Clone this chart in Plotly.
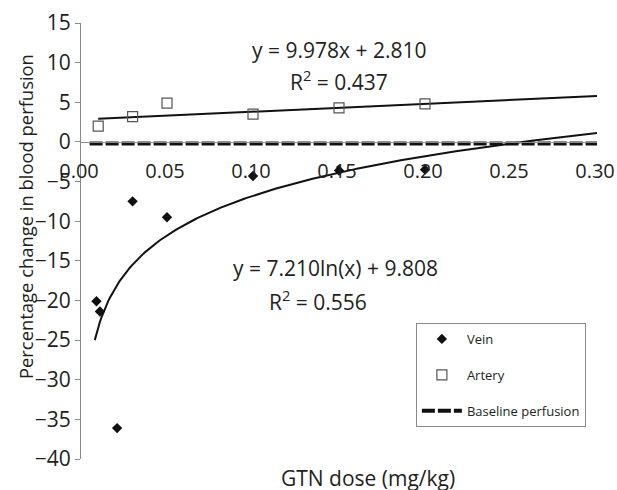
import numpy as np
import plotly.graph_objects as go

# ---- data ----
vein_x = [0.009, 0.011, 0.021, 0.030, 0.050, 0.100, 0.150, 0.200]
vein_y = [-20.1, -21.4, -36.1, -7.5, -9.5, -4.3, -3.6, -3.5]

artery_x = [0.010, 0.030, 0.050, 0.100, 0.150, 0.200]
artery_y = [2.0, 3.2, 4.9, 3.5, 4.3, 4.8]

baseline_x = [0.005, 0.300]
baseline_y = [-0.2, -0.2]

# trendline coefficients as printed on the chart
lin_slope, lin_icpt = 9.978, 2.810
log_coef, log_icpt = 7.210, 9.808
lin_range = [0.010, 0.300]
log_range = [0.008, 0.300]

x_ticks = [0.00, 0.05, 0.10, 0.15, 0.20, 0.25, 0.30]
y_ticks = list(range(-40, 16, 5))

FONT = "Open Sans"
TXT = "#231f20"
AX = "#8a8a8a"

lx = np.linspace(lin_range[0], lin_range[1], 50)
ly = lin_slope * lx + lin_icpt
gx = np.linspace(log_range[0], log_range[1], 300)
gy = log_coef * np.log(gx) + log_icpt

fig = go.Figure()
fig.add_trace(go.Scatter(x=baseline_x, y=baseline_y, mode="lines", name="Baseline perfusion",
                         line=dict(color="#111", width=4, dash="13px,3px"),
                         legendgroup="c", legendrank=3))
fig.add_trace(go.Scatter(x=lx, y=ly, mode="lines", showlegend=False,
                         line=dict(color="#111", width=2)))
fig.add_trace(go.Scatter(x=gx, y=gy, mode="lines", showlegend=False,
                         line=dict(color="#111", width=2)))
fig.add_trace(go.Scatter(x=vein_x, y=vein_y, mode="markers", name="Vein",
                         marker=dict(symbol="diamond", size=8, color="#111"),
                         legendgroup="a", legendrank=1))
fig.add_trace(go.Scatter(x=artery_x, y=artery_y, mode="markers", name="Artery",
                         marker=dict(symbol="square-open", size=10, color="#555",
                                     line=dict(width=1.2)),
                         legendgroup="b", legendrank=2))

ann = [
    dict(x=0.150, y=11.6, text="y = 9.978x + 2.810"),
    dict(x=0.150, y=7.8, text="R<sup>2</sup> = 0.437"),
    dict(x=0.148, y=-15.9, text="y = 7.210ln(x) + 9.808"),
    dict(x=0.138, y=-20.0, text="R<sup>2</sup> = 0.556"),
]
annotations = [dict(a, xref="x", yref="y", showarrow=False,
                    font=dict(family=FONT, size=21, color=TXT)) for a in ann]
annotations.append(dict(text="GTN dose (mg/kg)", xref="paper", yref="paper",
                        x=0.556, y=-0.044, showarrow=False, yanchor="middle",
                        font=dict(family=FONT, size=21, color=TXT)))
annotations.append(dict(text="Percentage change in blood perfusion", xref="paper", yref="paper",
                        x=-0.1085, y=0.555, showarrow=False, textangle=-90,
                        xanchor="center", yanchor="middle",
                        font=dict(family=FONT, size=18.4, color=TXT)))

fig.update_layout(
    width=617, height=490,
    margin=dict(l=81, r=20, t=23, b=31, autoexpand=False),
    paper_bgcolor="white", plot_bgcolor="white",
    font=dict(family=FONT, size=19, color=TXT),
    annotations=annotations,
    legend=dict(x=0.649, y=0.312, xanchor="left", yanchor="top",
                bordercolor=AX, borderwidth=1, bgcolor="white",
                font=dict(family=FONT, size=13, color=TXT),
                tracegroupgap=16, itemwidth=40),
    xaxis=dict(range=[0, 0.30], tickvals=x_ticks, tickformat=".2f", automargin=False,
               showgrid=False, zeroline=False, showline=True, linecolor=AX, linewidth=1,
               ticks="", anchor="free", position=40 / 55, ticklabelstandoff=11,
               ticklabelshift=-2, ticklabeloverflow="allow",
               tickfont=dict(family=FONT, size=20, color=TXT)),
    yaxis=dict(range=[-40, 15], tickvals=y_ticks, automargin=False,
               showgrid=False, zeroline=False, showline=True, linecolor=AX, linewidth=1,
               ticks="outside", ticklen=5, tickcolor=AX,
               tickfont=dict(family=FONT, size=21, color=TXT)),
)

fig.write_html("out.html", config={"displayModeBar": False},
               post_script="document.body.style.margin='0';")
